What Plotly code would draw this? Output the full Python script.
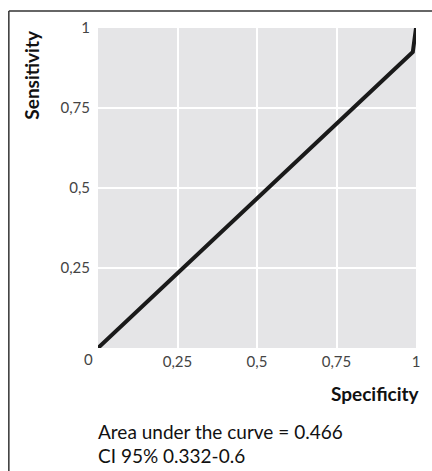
import plotly.graph_objects as go

specificity = [0, 0.99, 1]
sensitivity = [0, 0.925, 1]
tick_vals = [0.25, 0.5, 0.75, 1]
tick_text = ["0,25", "0,5", "0,75", "1"]
auc_text = "Area under the curve = 0.466"
ci_text = "CI 95% 0.332-0.6"

W, H = 432, 471
L, R, T, B = 98, 13, 28, 123
pw, ph = W - L - R, H - T - B

def px(x):
    return (x - L) / pw

def py(y):
    return (H - B - y) / ph

FONT = "Lato"

fig = go.Figure()
fig.add_trace(go.Scatter(x=specificity, y=sensitivity, mode="lines",
                         line=dict(color="#1a1a1a", width=4), hoverinfo="skip",
                         showlegend=False))

axis_common = dict(range=[0, 1], tickvals=tick_vals, ticktext=tick_text,
                   showgrid=True, gridcolor="white", gridwidth=1.5,
                   zeroline=False, showline=False, ticks="outside",
                   tickcolor="rgba(0,0,0,0)",
                   tickfont=dict(family=FONT, size=15, color="#444"))

fig.update_xaxes(ticklen=0, **axis_common)
fig.update_yaxes(ticklen=4, **axis_common)

annotations = [
    dict(text="0", x=px(88), y=py(359), xref="paper", yref="paper",
         showarrow=False, xanchor="center", yanchor="middle",
         font=dict(family=FONT, size=15, color="#444")),
    dict(text="<b>Specificity</b>", x=px(425), y=py(393), xref="paper", yref="paper",
         showarrow=False, xanchor="right", yanchor="middle",
         font=dict(family=FONT, size=19, color="#111")),
    dict(text="<b>Sensitivity</b>", x=px(30), y=py(28), xref="paper", yref="paper",
         showarrow=False, xanchor="center", yanchor="top", textangle=-90,
         font=dict(family=FONT, size=19, color="#111")),
    dict(text=auc_text, x=px(96), y=py(431), xref="paper", yref="paper",
         showarrow=False, xanchor="left", yanchor="middle",
         font=dict(family=FONT, size=19, color="#111")),
    dict(text=ci_text, x=px(96), y=py(455), xref="paper", yref="paper",
         showarrow=False, xanchor="left", yanchor="middle",
         font=dict(family=FONT, size=19, color="#111")),
]

shapes = [
    dict(type="line", xref="paper", yref="paper", x0=px(8), x1=px(8),
         y0=py(11), y1=py(475), line=dict(color="#333", width=1.5)),
    dict(type="line", xref="paper", yref="paper", x0=px(8), x1=px(436),
         y0=py(11), y1=py(11), line=dict(color="#333", width=1.5)),
]

fig.update_layout(width=W, height=H, margin=dict(l=L, r=R, t=T, b=B),
                  paper_bgcolor="white", plot_bgcolor="#e5e5e7",
                  annotations=annotations, shapes=shapes,
                  font=dict(family=FONT))

fig.write_html("out.html")
